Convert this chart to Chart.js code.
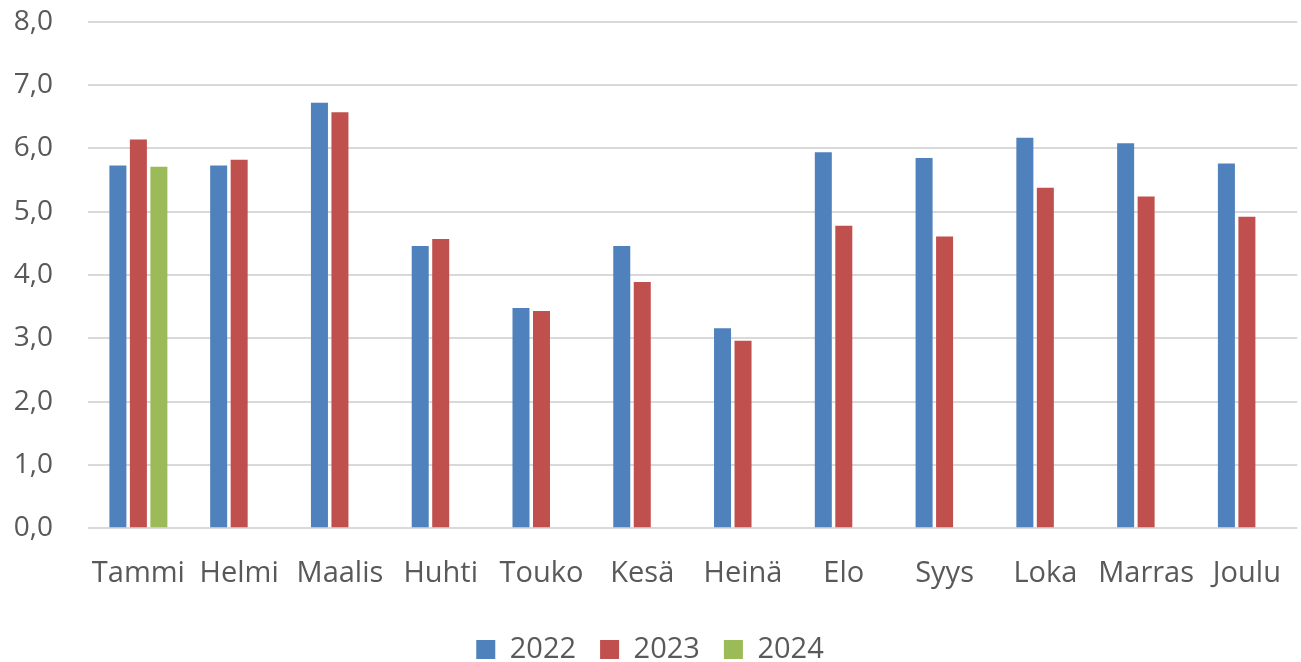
<!DOCTYPE html>
<html>
<head>
<meta charset="utf-8">
<script src="https://cdn.jsdelivr.net/npm/chart.js@4/dist/chart.umd.min.js"></script>
<style>
  html, body { margin: 0; padding: 0; background: #fff; overflow: hidden; }
  #wrap { width: 1301px; height: 704px; margin-top: -30px; }
</style>
</head>
<body>
<div id="wrap"><canvas id="grafico"></canvas></div>
<script>
const kuukaudet = ['Tammi', 'Helmi', 'Maalis', 'Huhti', 'Touko', 'Kesä', 'Heinä', 'Elo', 'Syys', 'Loka', 'Marras', 'Joulu'];
const v2022 = [5.73, 5.73, 6.72, 4.46, 3.48, 4.46, 3.16, 5.94, 5.85, 6.17, 6.08, 5.76];
const v2023 = [6.14, 5.82, 6.57, 4.57, 3.43, 3.89, 2.96, 4.78, 4.61, 5.38, 5.24, 4.92];
const v2024 = [5.71, null, null, null, null, null, null, null, null, null, null, null];
const yTicks = [0, 1, 2, 3, 4, 5, 6, 7, 8];

const ctx = document.getElementById('grafico').getContext('2d');
const fontti = 'Open Sans, Noto Sans, sans-serif';

new Chart(ctx, {
  type: 'bar',
  data: {
    labels: kuukaudet,
    datasets: [
      { label: '2022', data: v2022, backgroundColor: '#4f81bd' },
      { label: '2023', data: v2023, backgroundColor: '#c0504d' },
      { label: '2024', data: v2024, backgroundColor: '#9bbb59' }
    ]
  },
  options: {
    responsive: true,
    maintainAspectRatio: false,
    animation: false,
    datasets: { bar: { categoryPercentage: 0.61, barPercentage: 0.83 } },
    layout: { padding: { top: 0, right: 1, left: 0, bottom: 0 } },
    plugins: {
      tooltip: { enabled: false },
      legend: {
        position: 'bottom',
        labels: {
          boxWidth: 19,
          boxHeight: 19,
          padding: 24,
          color: '#595959',
          font: { family: fontti, size: 29 }
        }
      }
    },
    scales: {
      y: {
        min: 0,
        max: 8,
        afterBuildTicks: s => { s.ticks = yTicks.map(v => ({ value: v })); },
        afterFit: s => { s.width = 88; },
        border: { display: false },
        grid: { color: '#d9d9d9', lineWidth: 2, drawTicks: false },
        ticks: {
          padding: 35,
          color: '#595959',
          font: { family: fontti, size: 28 },
          callback: v => v.toFixed(1).replace('.', ',')
        }
      },
      x: {
        border: { display: false },
        grid: { display: false },
        ticks: {
          padding: 20,
          maxRotation: 0,
          autoSkip: false,
          color: '#595959',
          font: { family: fontti, size: 29 }
        }
      }
    }
  }
});
</script>
</body>
</html>
